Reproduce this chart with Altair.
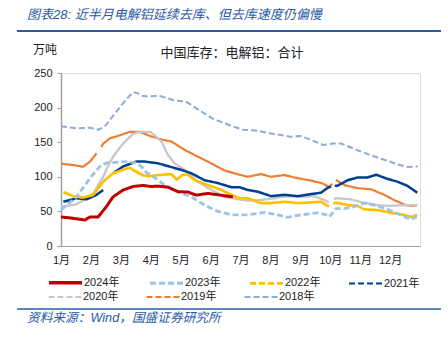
import json
import altair as alt
import pandas as pd

FONT = "Liberation Sans, Noto Sans CJK SC, sans-serif"
BLUE = "#2a5aa5"

title_text = "图表28:  近半月电解铝延续去库、但去库速度仍偏慢"
unit_text = "万吨"
subtitle_text = "中国库存：电解铝：合计"
source_text = "资料来源：Wind，国盛证券研究所"

month_labels = ["1月", "2月", "3月", "4月", "5月", "6月", "7月", "8月", "9月", "10月", "11月", "12月"]
y_ticks = [0, 50, 100, 150, 200, 250]

series_names = ["2024年", "2023年", "2022年", "2021年", "2020年", "2019年", "2018年"]
series_colors = ["#c00000", "#9dc3e6", "#ffc000", "#003e8f", "#c8c8c8", "#ed7d31", "#8eaadb"]
series_dash = [[1, 0], [6, 3], [1, 0], [1, 0], [1, 0], [1, 0], [6, 3]]
legend_dash = [[1, 0], [6, 3], [6, 3], [6, 3], [6, 3], [6, 3], [6, 3]]
series_width = [3, 2, 2, 2, 2, 2, 2]
legend_width = [3.5, 2.2, 2.2, 2.2, 2.2, 2.2, 2.2]

# month position (0 = 1月初), value (万吨); None marks a break in the line
m_2018 = [0, 0.5, 0.97, 1.24, 1.45, 1.63, 1.85, 2.07, 2.25, 2.4, 2.55, 2.7, 2.9, 3.3, 3.74, 4.2, 4.63, 5.07, 5.43, 5.8,
          6.1, 6.5, 7.1, 7.66, 8.0, 8.32, 8.77, 9.1, 9.37, 9.88, 10.3, 10.63, 11.0, 11.24, 11.6, 11.93]
v_2018 = [173, 170, 171, 168, 172, 182, 194, 206, 215, 222, 221, 217, 216, 217, 211, 208, 196, 184, 178, 172,
          168, 167, 162, 158, 159, 154, 146, 148, 148, 139, 132, 127, 122, 118, 114, 115]

m_2019 = [0, 0.41, 0.74, 0.97, 1.19, None, 1.35, 1.41, 1.63, 1.97, 2.3, 2.63, 2.97, 3.36, 3.69, 4.13, 4.58, 5.02, 5.47,
          5.97, 6.24, 6.69, 7.02, 7.47, 7.91, 8.36, 8.74, 8.97, 9.07, None, 9.19, 9.47, 9.91, 10.36, 10.8, 11.13,
          11.52, 11.75, 11.91]
v_2019 = [119, 117, 114.5, 122, 134, None, 143, 148, 155.5, 160, 165, 165, 159, 154, 151, 139, 129, 119.5, 109,
          103, 100, 104, 100, 102.5, 98, 94.5, 90.5, 85, 90, None, 95.5, 88, 83.5, 82, 74, 66.5,
          59, 58, 59]

m_2020 = [0, 0.5, 0.91, 1.08, 1.24, 1.41, 1.58, 1.74, 1.91, 2.08, 2.24, 2.41, 2.63, 2.97, 3.13, 3.36, 3.58, 3.8,
          4.13, 4.58, 5.02, 5.47, 5.97, 6.24, 6.69, 7.13, 7.58, 8.02, 8.47, 8.8, 8.95, None, 9.12, 9.24, 9.69,
          10.13, 10.58, 11.02, 11.47, 11.91]
v_2020 = [57, 60, 70, 76, 88, 100, 116, 129, 139, 148, 155, 162, 165, 165, 160, 151, 131, 119.5,
          110, 93, 81, 71, 67, 65.5, 66.5, 69, 72, 71, 72, 66.5, 63, None, 68, 69, 67.5,
          62.5, 59, 58, 59, 59]

m_2021 = [0.08, 0.52, 0.86, 1.19, 1.41, None, 1.74, 2.08, 2.52, 2.8, 3.24, 3.69, 4.02, 4.36, 4.8, 5.24, 5.69, 5.97,
          6.24, 6.58, 7.02, 7.47, 7.91, 8.36, 8.69, 8.91, 9.02, None, 9.15, 9.24, 9.58, 9.91, 10.24, 10.54, 10.91,
          11.24, 11.58, 11.91]
v_2021 = [64, 69, 67.5, 74, 81, None, 105, 115, 122, 122, 119.5, 114, 110, 105, 95, 91, 85, 85,
          81, 78.5, 72, 74, 72, 75, 77, 84, 86, None, 87, 87, 95, 99, 99, 103, 97,
          93, 87, 77]

m_2022 = [0.08, 0.41, 0.74, 1.08, 1.41, 1.74, 2.19, 2.3, 2.41, 2.74, 3.0, 3.24, 3.69, 3.86, 4.08, 4.24, 4.47, 4.91,
          5.36, 5.69, 5.97, 6.24, 6.69, 7.02, 7.47, 7.91, 8.36, 8.69, 8.95, None, 9.1, 9.24, 9.58, 9.91, 10.13,
          10.58, 11.02, 11.47, 11.69, 11.91]
v_2022 = [78, 72, 70, 74, 93, 105, 112, 113, 110, 102, 101, 102.5, 104, 96, 103, 103, 95, 88,
          81, 74, 69, 69, 62, 62, 64, 62, 63, 64, 57, None, 62, 62.5, 59, 58, 53,
          52, 48, 45, 42, 45]

m_2023 = [0, 0.52, 0.97, 1.3, 1.52, 2.19, 2.5, 2.69, 2.86, 3.0, 3.47, 3.91, 4.36, 4.8, 5.24, 5.69, 6.24, 6.8, 7.24,
          7.58, 8.02, 8.58, 8.86, 8.97, 9.19, 9.47, 9.8, 10.13, 10.47, 10.86, 11.24, 11.69, 11.9]
v_2023 = [52, 71, 98, 115, 120, 122, 120, 115, 106, 103, 88, 78, 71, 59, 50, 45, 45, 48.5, 45,
          41.5, 45, 48, 45, 42, 54, 54, 57, 62, 59, 54, 47, 38.5, 42]

m_2024 = [0, 0.41, 0.8, 0.97, 1.24, 1.52, 1.74, 2.08, 2.41, 2.74, 3.0, 3.24, 3.58, 3.91, 4.24, 4.52, 4.91, 5.24,
          5.58, 5.75]
v_2024 = [42, 40, 37.5, 42, 42, 57, 71, 81, 86, 87.5, 86, 86.5, 85, 78.5, 78, 73.5, 76, 74,
          72, 71]

draw_order = [("2018年", m_2018, v_2018), ("2019年", m_2019, v_2019), ("2020年", m_2020, v_2020),
              ("2021年", m_2021, v_2021), ("2022年", m_2022, v_2022), ("2023年", m_2023, v_2023),
              ("2024年", m_2024, v_2024)]

rows = []
for name, ms, vs in draw_order:
    seg = 0
    for m, v in zip(ms, vs):
        if v is None:
            seg += 1
            continue
        rows.append({"series": name, "m": m, "v": v, "seg": f"{name}-{seg}"})
df = pd.DataFrame(rows)

label_expr = json.dumps(month_labels, ensure_ascii=False) + "[datum.value]"

lines = alt.Chart(df).mark_line(strokeJoin="round", strokeCap="butt").encode(
    x=alt.X("m:Q", scale=alt.Scale(domain=[0, 12], nice=False, zero=False),
            axis=alt.Axis(values=list(range(12)), labelExpr=label_expr, ticks=False, grid=False, title=None,
                          domainColor="#a0a0a0", domainWidth=1.2, labelFontSize=11, labelFont=FONT,
                          labelColor="#222222", labelPadding=8, labelFlush=False)),
    y=alt.Y("v:Q", scale=alt.Scale(domain=[0, 250], nice=False),
            axis=alt.Axis(values=y_ticks, grid=False, title=None, tickSize=4, tickColor="#a0a0a0",
                          domainColor="#a0a0a0", domainWidth=1.5, labelFontSize=11, labelFont=FONT,
                          labelColor="#222222", labelPadding=5)),
    color=alt.Color("series:N", scale=alt.Scale(domain=series_names, range=series_colors), legend=None),
    strokeDash=alt.StrokeDash("series:N", scale=alt.Scale(domain=series_names, range=series_dash), legend=None),
    strokeWidth=alt.StrokeWidth("series:N", scale=alt.Scale(domain=series_names, range=series_width), legend=None),
    detail="seg:N",
)


def legend_row(lo, hi, legend_y):
    leg = alt.Legend(
        title=None, orient="none", legendX=-14, legendY=legend_y, direction="horizontal",
        columns=4, symbolType="stroke", symbolSize=1089,
        labelFontSize=11, labelFont=FONT, labelColor="#222222", labelOffset=0,
        columnPadding=23)
    names = series_names[lo:hi]
    return alt.Chart(df).transform_filter("false").mark_line().encode(
        color=alt.Color("series:N", scale=alt.Scale(domain=names, range=series_colors[lo:hi]), legend=leg),
        strokeDash=alt.StrokeDash("series:N", scale=alt.Scale(domain=names, range=legend_dash[lo:hi]), legend=leg),
        strokeWidth=alt.StrokeWidth("series:N", scale=alt.Scale(domain=names, range=legend_width[lo:hi]),
                                    legend=leg),
    )


def text_layer(txt, x, y, size, color, italic=False, align="left"):
    return alt.Chart(alt.Data(values=[{"t": txt}])).mark_text(
        align=align, baseline="middle", fontSize=size, font=FONT, color=color,
        fontStyle="italic" if italic else "normal").encode(
        x=alt.value(x), y=alt.value(y), text="t:N")


def hrule(x1, x2, y, width):
    return alt.Chart(alt.Data(values=[{"r": 1}])).mark_rule(color=BLUE, strokeWidth=width).encode(
        x=alt.value(x1), x2=alt.value(x2), y=alt.value(y))


chart = alt.layer(
    lines,
    legend_row(0, 4, 191),
    legend_row(4, 7, 206),
    text_layer(title_text, -34, -58, 13, BLUE, italic=True),
    hrule(-44, 380, -42, 2),
    text_layer(unit_text, -28, -23, 12, "#222222"),
    text_layer(subtitle_text, 171, -20, 13, "#222222", align="center"),
    hrule(-44, 380, 236, 1.5),
    text_layer(source_text, -34, 245, 12.7, BLUE, italic=True),
).resolve_scale(
    color="independent", strokeDash="independent", strokeWidth="independent"
).resolve_legend(
    color="independent", strokeDash="independent", strokeWidth="independent"
).properties(
    width=359, height=173,
    padding={"left": 61, "top": 73, "right": 28, "bottom": 92},
    autosize=alt.AutoSizeParams(type="none"),
).configure_view(stroke=None).configure(background="white")

chart.save("out.html", embed_options={"renderer": "svg", "actions": False})
